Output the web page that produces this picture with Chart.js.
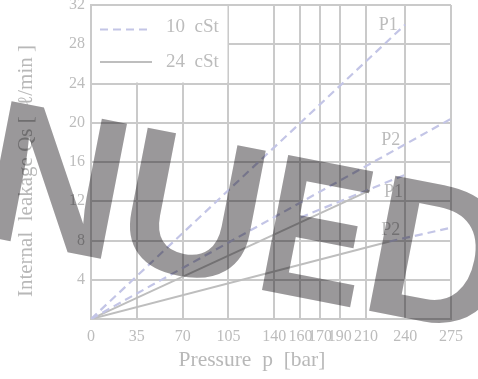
<!DOCTYPE html>
<html>
<head>
<meta charset="utf-8">
<script src="https://cdn.jsdelivr.net/npm/chart.js@4"></script>
<style>
  body { margin: 0; background: #fff; }
  #chart { display: block; }
</style>
</head>
<body>
<canvas id="chart" width="478" height="379"></canvas>
<script>
// x grid positions (bar) and the labels printed under them
const xGridValues = [0, 35, 70, 105, 140, 160, 175, 190, 210, 240, 275];
const xTickLabels = ['0', '35', '70', '105', '140', '160', '170', '190', '210', '240', '275'];

// 10 cSt (dashed)
const p1Visc10X = [0, 240];
const p1Visc10Y = [0, 30];
const p2Visc10X = [0, 275];
const p2Visc10Y = [0, 20.4];

// 24 cSt (solid) plus dashed extensions
const p1Visc24X = [0, 213];
const p1Visc24Y = [0, 13.1];
const p1Visc24ExtX = [160, 240];
const p1Visc24ExtY = [10.35, 14.7];
const p2Visc24X = [0, 228];
const p2Visc24Y = [0, 7.9];
const p2Visc24ExtX = [228, 275];
const p2Visc24ExtY = [7.9, 9.3];

// curve labels: text, pressure, leakage
const curveLabels = ['P1', 'P2', 'P1', 'P2'];
const curveLabelX = [227, 229, 231, 229];
const curveLabelY = [29.9, 18.2, 12.9, 9.0];

const dashColor = '#c3c5e6';
const solidColor = '#bebebe';
const gridColor = '#cacaca';
const textColor = '#bcbcbc';
const serif = '"Liberation Serif", "Times New Roman", serif';

const pts = (xs, ys) => xs.map((x, i) => ({x: x, y: ys[i]}));

const dashed = (xs, ys) => ({
    data: pts(xs, ys),
    borderColor: dashColor,
    borderWidth: 2.2,
    borderDash: [8, 5],
    pointRadius: 0,
    fill: false
});
const solid = (xs, ys) => ({
    data: pts(xs, ys),
    borderColor: solidColor,
    borderWidth: 2,
    pointRadius: 0,
    fill: false
});

const background = {
    id: 'background',
    beforeDraw(chart) {
        const ctx = chart.ctx;
        ctx.save();
        ctx.fillStyle = '#fff';
        ctx.fillRect(0, 0, chart.width, chart.height);
        ctx.restore();
    }
};

// white legend box sitting over the grid, top-left corner of the plot
const legendBox = {
    id: 'legendBox',
    beforeDatasetsDraw(chart) {
        const {ctx, scales: {x, y}} = chart;
        const l = x.getPixelForValue(0), r = x.getPixelForValue(105);
        const t = y.getPixelForValue(32), b = y.getPixelForValue(24);
        ctx.save();
        ctx.fillStyle = '#fff';
        ctx.fillRect(l + 1, t + 1, r - l - 2, b - t - 2);

        ctx.lineWidth = 2.2;
        ctx.strokeStyle = dashColor;
        ctx.setLineDash([8, 5]);
        ctx.beginPath();
        ctx.moveTo(l + 9, t + 24.5);
        ctx.lineTo(l + 61, t + 24.5);
        ctx.stroke();

        ctx.lineWidth = 2;
        ctx.strokeStyle = solidColor;
        ctx.setLineDash([]);
        ctx.beginPath();
        ctx.moveTo(l + 9, t + 57);
        ctx.lineTo(l + 61, t + 57);
        ctx.stroke();

        ctx.fillStyle = textColor;
        ctx.font = '19px ' + serif;
        ctx.textBaseline = 'middle';
        ctx.textAlign = 'left';
        ctx.fillText('10  cSt', l + 75, t + 22);
        ctx.fillText('24  cSt', l + 75, t + 57);
        ctx.restore();
    }
};

const annotations = {
    id: 'annotations',
    afterDraw(chart) {
        const {ctx, scales: {x, y}} = chart;
        ctx.save();
        ctx.fillStyle = textColor;
        ctx.textAlign = 'center';
        ctx.textBaseline = 'middle';
        ctx.font = '18px ' + serif;
        curveLabels.forEach((txt, i) => {
            ctx.fillText(txt, x.getPixelForValue(curveLabelX[i]), y.getPixelForValue(curveLabelY[i]));
        });

        // axis titles
        ctx.fillStyle = '#b8b8b8';
        ctx.font = '21.5px ' + serif;
        ctx.fillText('Pressure  p  [bar]', 252, 360);
        ctx.save();
        ctx.font = '21px ' + serif;
        ctx.translate(26, 171);
        ctx.rotate(-Math.PI / 2);
        ctx.fillText('Internal  leakage Qs [  \u2113/min ]', 0, 0);
        ctx.restore();

        // watermark
        ctx.globalCompositeOperation = 'multiply';
        ctx.fillStyle = '#9a989a';
        ctx.font = 'bold 200px "Liberation Sans", Arial, sans-serif';
        ctx.textAlign = 'left';
        ctx.textBaseline = 'alphabetic';
        ctx.rotate(11 * Math.PI / 180);
        [['N', 32, 1], ['U', 172, 1], ['E', 313.5, 0.8], ['D', 423, 1]].forEach(([ch, u, sx]) => {
            ctx.save();
            ctx.translate(u - 14.6 * sx, 234.7);
            ctx.scale(sx, 1);
            ctx.fillText(ch, 0, 0);
            ctx.restore();
        });
        ctx.restore();
    }
};

new Chart(document.getElementById('chart').getContext('2d'), {
    type: 'line',
    data: {
        datasets: [
            dashed(p1Visc10X, p1Visc10Y),
            dashed(p2Visc10X, p2Visc10Y),
            solid(p1Visc24X, p1Visc24Y),
            dashed(p1Visc24ExtX, p1Visc24ExtY),
            solid(p2Visc24X, p2Visc24Y),
            dashed(p2Visc24ExtX, p2Visc24ExtY)
        ]
    },
    options: {
        responsive: false,
        animation: false,
        devicePixelRatio: 1,
        layout: { padding: { top: 5, right: 27, left: 0, bottom: 0 } },
        plugins: { legend: { display: false }, tooltip: { enabled: false } },
        elements: { line: { tension: 0 } },
        scales: {
            x: {
                type: 'linear',
                min: 0,
                max: 275,
                afterBuildTicks: s => { s.ticks = xGridValues.map(v => ({value: v})); },
                afterFit: s => { s.height = 60; s.paddingLeft = 0; s.paddingRight = 0; },
                grid: { color: gridColor, lineWidth: 2, drawTicks: false },
                border: { color: gridColor, width: 2 },
                ticks: {
                    autoSkip: false,
                    maxRotation: 0,
                    minRotation: 0,
                    padding: 8,
                    color: textColor,
                    font: { family: serif, size: 16 },
                    callback: (v, i) => xTickLabels[i]
                }
            },
            y: {
                min: 0,
                max: 32,
                afterFit: s => { s.width = 91; s.paddingTop = 0; s.paddingBottom = 0; },
                grid: { color: gridColor, lineWidth: 2, drawTicks: false },
                border: { color: gridColor, width: 2 },
                ticks: {
                    stepSize: 4,
                    padding: 6,
                    color: textColor,
                    font: { family: serif, size: 16 },
                    callback: v => v === 0 ? '' : v
                }
            }
        }
    },
    plugins: [background, legendBox, annotations]
});
</script>
</body>
</html>
